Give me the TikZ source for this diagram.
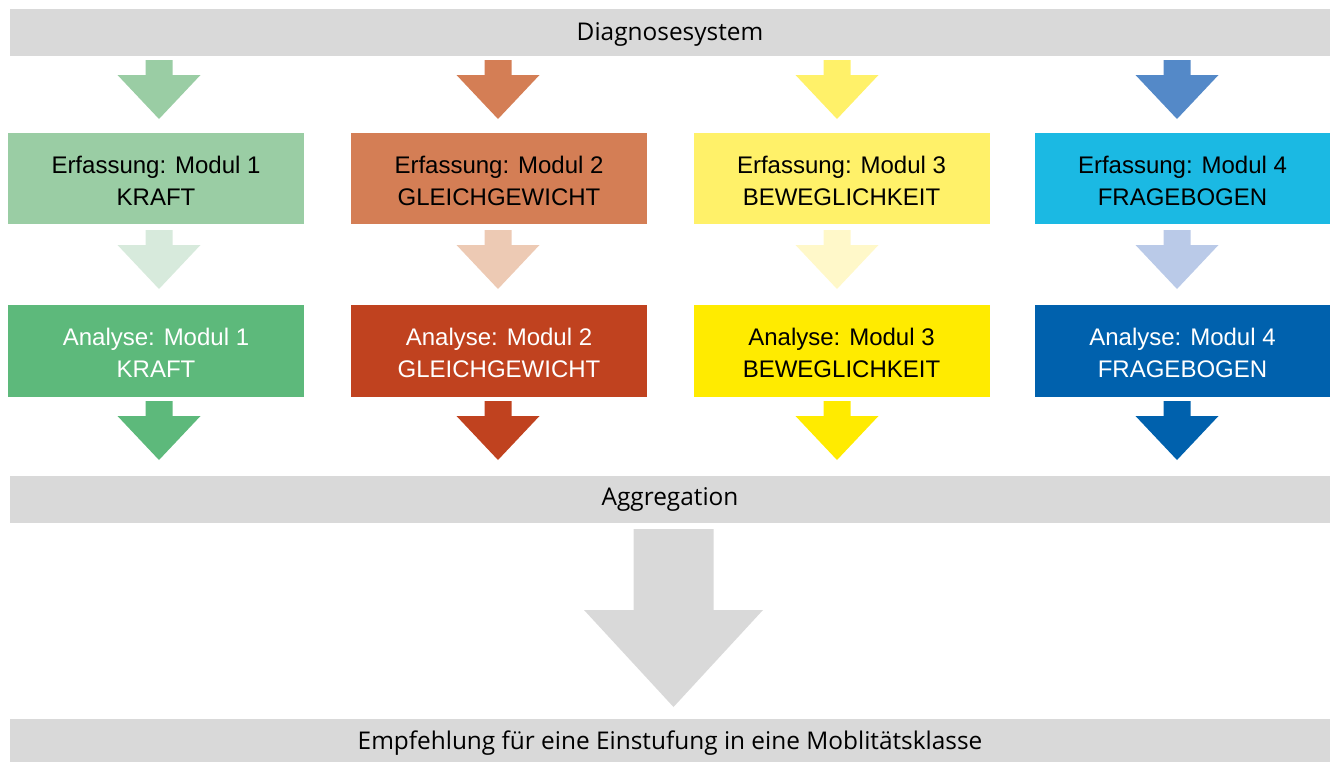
\documentclass[tikz,border=0pt]{standalone}
\usepackage{fontspec}
\setmainfont{Liberation Sans}
\newfontfamily\barfont{Open Sans}
\definecolor{bargray}{HTML}{D9D9D9}
\definecolor{gA}{HTML}{9ACDA4}\definecolor{gL}{HTML}{D7EADC}\definecolor{gD}{HTML}{5DB97B}
\definecolor{oA}{HTML}{D47E55}\definecolor{oL}{HTML}{EDCAB4}\definecolor{oD}{HTML}{C0421F}
\definecolor{yA}{HTML}{FFF169}\definecolor{yL}{HTML}{FFF8C9}\definecolor{yD}{HTML}{FFEB00}
\definecolor{bA}{HTML}{5489C8}\definecolor{bB}{HTML}{1BB9E3}\definecolor{bL}{HTML}{BACAE8}\definecolor{bD}{HTML}{0061AD}
% block arrow: color, center x, shaft top, head start, tip, half shaft, half head
\newcommand\blockarr[7]{\fill[#1] (#2-#6,#3) -- (#2+#6,#3) -- (#2+#6,#4) -- (#2+#7,#4) -- (#2,#5) -- (#2-#7,#4) -- (#2-#6,#4) -- cycle;}
% module box: name, x, y, height, fill, text colour, line 1, line 2
\newcommand\modnode[8]{\node[modbox, minimum height=#4, fill=#5,
  label={[modtext, text=#6]center:{#7\\#8}}] (#1) at (#2,#3) {};}
\begin{document}
\begin{tikzpicture}[x=0.5pt,y=-0.5pt,
  bar/.style={fill=bargray, inner sep=0pt, minimum width=660pt, font=\barfont\fontsize{12.2}{14}\selectfont},
  modbox/.style={inner sep=0pt, minimum width=148pt},
  modtext/.style={align=center, inner sep=0pt, yshift=-1pt, font=\fontsize{12}{16}\selectfont}]
\useasboundingbox (0,0) rectangle (1330,762);
\node[bar, minimum height=23.5pt, text depth=0.5pt] (top) at (670,32.5) {Diagnosesystem};
\node[bar, minimum height=23.5pt] (agg) at (670,499.5) {Aggregation};
\node[bar, minimum height=21.5pt, text depth=0.2pt] (emp) at (670,740.5) {Empfehlung für eine Einstufung in eine Moblitätsklasse};
% Erfassung boxes
\modnode{e1}{156}{178.5}{45.5pt}{gA}{black}{Erfassung: Modul 1}{KRAFT}
\modnode{e2}{499}{178.5}{45.5pt}{oA}{black}{Erfassung: Modul 2}{GLEICHGEWICHT}
\modnode{e3}{841.5}{178.5}{45.5pt}{yA}{black}{Erfassung: Modul 3}{BEWEGLICHKEIT}
\modnode{e4}{1182.5}{178.5}{45.5pt}{bB}{black}{Erfassung: Modul 4}{FRAGEBOGEN}
% Analyse boxes
\modnode{a1}{156}{351}{46pt}{gD}{white}{Analyse: Modul 1}{KRAFT}
\modnode{a2}{499}{351}{46pt}{oD}{white}{Analyse: Modul 2}{GLEICHGEWICHT}
\modnode{a3}{841.5}{351}{46pt}{yD}{black}{Analyse: Modul 3}{BEWEGLICHKEIT}
\modnode{a4}{1182.5}{351}{46pt}{bD}{white}{Analyse: Modul 4}{FRAGEBOGEN}
% arrows row 1
\blockarr{gA}{159}{60}{75}{119}{13.5}{41.5}
\blockarr{oA}{498}{60}{75}{119}{13.5}{41.5}
\blockarr{yA}{837}{60}{75}{119}{13.5}{41.5}
\blockarr{bA}{1177}{60}{75}{119}{13.5}{41.5}
% arrows row 2
\blockarr{gL}{159}{230}{245}{289}{13.5}{41.5}
\blockarr{oL}{498}{230}{245}{289}{13.5}{41.5}
\blockarr{yL}{837}{230}{245}{289}{13.5}{41.5}
\blockarr{bL}{1177}{230}{245}{289}{13.5}{41.5}
% arrows row 3
\blockarr{gD}{159}{401}{416}{460}{13.5}{41.5}
\blockarr{oD}{498}{401}{416}{460}{13.5}{41.5}
\blockarr{yD}{837}{401}{416}{460}{13.5}{41.5}
\blockarr{bD}{1177}{401}{416}{460}{13.5}{41.5}
% big arrow
\blockarr{bargray}{673.5}{529}{610}{707}{40}{89.5}
\end{tikzpicture}
\end{document}
